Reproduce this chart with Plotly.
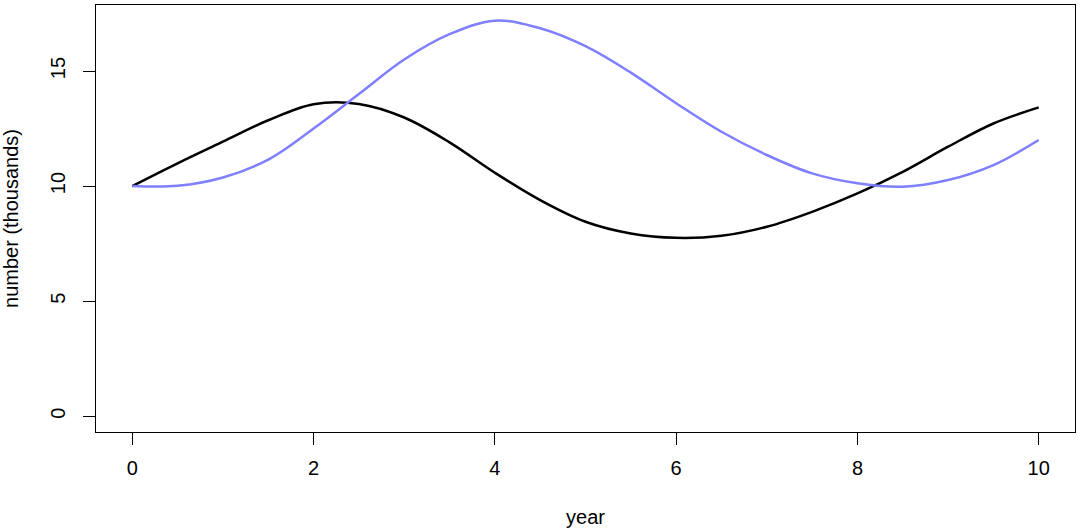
import plotly.graph_objects as go

years = [0, 0.5, 1, 1.5, 2, 2.5, 3, 3.5, 4, 4.5, 5, 5.5, 6, 6.5, 7, 7.5, 8, 8.5, 9, 9.5, 10]
black_series = [10.0, 10.99, 11.93, 12.86, 13.56, 13.57, 12.98, 11.9, 10.58, 9.39, 8.45, 7.94, 7.75, 7.84, 8.23, 8.88, 9.68, 10.62, 11.71, 12.72, 13.42]
blue_series = [10.0, 10.01, 10.37, 11.15, 12.5, 14.0, 15.5, 16.6, 17.19, 16.86, 16.08, 14.93, 13.6, 12.36, 11.35, 10.55, 10.12, 9.97, 10.26, 10.91, 12.0]
x_ticks = [0, 2, 4, 6, 8, 10]
y_ticks = [0, 5, 10, 15]

fig = go.Figure()
fig.add_trace(go.Scatter(x=years, y=black_series, mode="lines",
                         line=dict(color="black", width=2.5, shape="spline", smoothing=1.0),
                         showlegend=False))
fig.add_trace(go.Scatter(x=years, y=blue_series, mode="lines",
                         line=dict(color="#7F7FFF", width=2.5, shape="spline", smoothing=1.0),
                         showlegend=False))

font = dict(family="Liberation Sans, Arial, sans-serif", size=20, color="black")

fig.update_layout(
    width=1080, height=528,
    margin=dict(l=96, r=5, t=5, b=96),
    paper_bgcolor="white", plot_bgcolor="white",
    font=font,
)
fig.update_xaxes(
    range=[-0.4, 10.4], tickvals=x_ticks, ticktext=[str(v) for v in x_ticks],
    showgrid=False, zeroline=False, showline=True, linecolor="black", linewidth=1,
    mirror=True, ticks="outside", ticklen=12, tickcolor="black", tickwidth=1,
    ticklabelstandoff=6, automargin=False,
    title=dict(text="year", standoff=32, font=font),
)
fig.update_yaxes(
    range=[-0.69, 17.87], tickvals=y_ticks, ticktext=[str(v) for v in y_ticks],
    showgrid=False, zeroline=False, showline=True, linecolor="black", linewidth=1,
    mirror=True, ticks="outside", ticklen=12, tickcolor="black", tickwidth=1,
    tickangle=-90, ticklabelstandoff=10, automargin=False,
    title=dict(text="number (thousands)", standoff=26, font=font),
)

fig.write_html("out.html",
               config={"displayModeBar": False},
               post_script="document.body.style.margin='0';document.body.style.overflow='hidden';")
